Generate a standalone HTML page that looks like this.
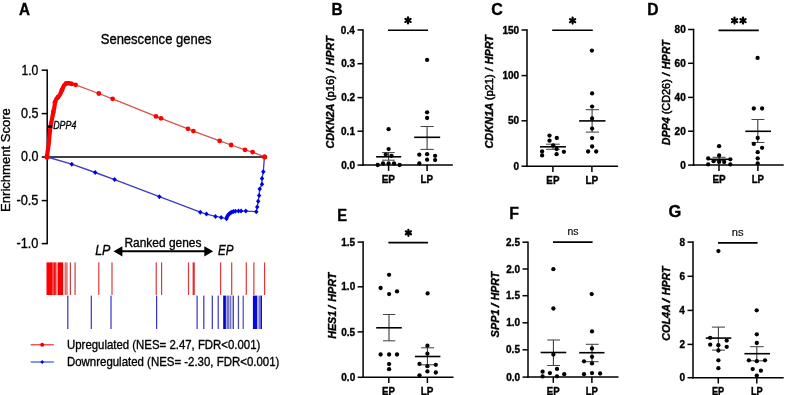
<!DOCTYPE html>
<html><head><meta charset="utf-8"><title>Figure</title>
<style>
html,body{margin:0;padding:0;background:#fff;}
body{width:787px;height:395px;overflow:hidden;}
svg{display:block;font-family:"Liberation Sans", sans-serif;filter:blur(0.35px);}
text{stroke:#000;stroke-width:0.35px;}
</style></head>
<body>
<svg width="787" height="395" viewBox="0 0 787 395">
<rect width="787" height="395" fill="#fff"/>
<text x="18.92" y="14.50" font-size="16" font-weight="bold" textLength="10.99" lengthAdjust="spacingAndGlyphs" >A</text>
<text x="100.71" y="44.00" font-size="14.6" textLength="110.76" lengthAdjust="spacingAndGlyphs" >Senescence genes</text>
<line x1="47.20" y1="69.45" x2="47.20" y2="244.35" stroke="#000" stroke-width="1.5" stroke-linecap="butt"/>
<line x1="41.70" y1="70.20" x2="47.20" y2="70.20" stroke="#000" stroke-width="1.5" stroke-linecap="butt"/>
<text x="21.39" y="74.60" font-size="14.2" textLength="16.94" lengthAdjust="spacingAndGlyphs" >1.0</text>
<line x1="41.70" y1="113.60" x2="47.20" y2="113.60" stroke="#000" stroke-width="1.5" stroke-linecap="butt"/>
<text x="21.00" y="118.00" font-size="14.2" textLength="17.40" lengthAdjust="spacingAndGlyphs" >0.5</text>
<line x1="41.70" y1="157.00" x2="47.20" y2="157.00" stroke="#000" stroke-width="1.5" stroke-linecap="butt"/>
<text x="21.00" y="161.40" font-size="14.2" textLength="17.34" lengthAdjust="spacingAndGlyphs" >0.0</text>
<line x1="41.70" y1="200.60" x2="47.20" y2="200.60" stroke="#000" stroke-width="1.5" stroke-linecap="butt"/>
<text x="16.42" y="205.00" font-size="14.2" textLength="22.03" lengthAdjust="spacingAndGlyphs" >-0.5</text>
<line x1="41.70" y1="243.60" x2="47.20" y2="243.60" stroke="#000" stroke-width="1.5" stroke-linecap="butt"/>
<text x="16.43" y="248.00" font-size="14.2" textLength="21.96" lengthAdjust="spacingAndGlyphs" >-1.0</text>
<text transform="translate(10.30 211.94) rotate(-90)" x="0" y="0" font-size="13" textLength="103.81" lengthAdjust="spacingAndGlyphs" >Enrichment Score</text>
<line x1="47.20" y1="157.00" x2="264.80" y2="157.00" stroke="#000" stroke-width="1.6" stroke-linecap="butt"/>
<polyline points="71.6,83.9 75.6,84.8 98.8,93.5 112.6,98.8 156.0,116.4 161.0,118.3 188.0,128.8 193.4,131.1 219.7,140.9 231.1,145.0 245.0,149.8 252.6,152.1 264.6,156.9" fill="none" stroke="#d85050" stroke-width="1.3"/>
<polyline points="47.0,156.0 47.6,151.8 48.6,145 49.5,135.4 50.6,125.8 52.0,119 53.3,112 54.4,107 55.0,102.5 56.3,99.0 57.8,97.4 60.0,94.6 62.0,89.9 64.0,85.4 66.3,83.3 69,83.1 71.6,83.9" fill="none" stroke="#ff0000" stroke-width="4.2" stroke-linejoin="round" stroke-linecap="round"/>
<circle cx="53.3" cy="112" r="2.4" fill="#ff0000"/>
<circle cx="55.0" cy="102.5" r="2.4" fill="#ff0000"/>
<circle cx="57.8" cy="97.4" r="2.4" fill="#ff0000"/>
<circle cx="62.0" cy="89.9" r="2.4" fill="#ff0000"/>
<circle cx="66.3" cy="83.3" r="2.4" fill="#ff0000"/>
<circle cx="71.6" cy="83.9" r="2.4" fill="#ff0000"/>
<circle cx="75.6" cy="84.8" r="2.4" fill="#ff0000"/>
<circle cx="98.8" cy="93.5" r="2.4" fill="#ff0000"/>
<circle cx="112.6" cy="98.8" r="2.4" fill="#ff0000"/>
<circle cx="156.0" cy="116.4" r="2.4" fill="#ff0000"/>
<circle cx="161.0" cy="118.3" r="2.4" fill="#ff0000"/>
<circle cx="188.0" cy="128.8" r="2.4" fill="#ff0000"/>
<circle cx="193.4" cy="131.1" r="2.4" fill="#ff0000"/>
<circle cx="219.7" cy="140.9" r="2.4" fill="#ff0000"/>
<circle cx="231.1" cy="145.0" r="2.4" fill="#ff0000"/>
<circle cx="245.0" cy="149.8" r="2.4" fill="#ff0000"/>
<circle cx="252.6" cy="152.1" r="2.4" fill="#ff0000"/>
<circle cx="264.6" cy="156.9" r="2.4" fill="#ff0000"/>
<line x1="47.90" y1="126.60" x2="52.40" y2="126.60" stroke="#000" stroke-width="2.4" stroke-linecap="butt"/>
<text x="53.23" y="128.80" font-size="10.8" font-style="italic" textLength="23.10" lengthAdjust="spacingAndGlyphs" >DPP4</text>
<polyline points="47.2,157.0 71.8,164.2 95.2,172.5 114.6,179.6 159.4,196.7 200.3,212.2 206.5,214.1 215.5,216.4 221.2,217.4 226.5,218.7 227.8,215.5 229.7,213.6 232.0,212.0 235.4,211.3 238.5,211.1 241.1,211.1 245.8,211.1 256.3,211.7 257.2,207.0 258.2,201.2 259.1,195.5 259.7,188.9 262.0,184.2 262.0,178.5 263.3,171.8 264.4,157.2" fill="none" stroke="#3c3cc8" stroke-width="1.35" stroke-linejoin="round"/>
<path d="M71.8,161.7L74.05,164.2L71.8,166.7L69.55,164.2Z" fill="#0000e6"/>
<path d="M95.2,170.0L97.45,172.5L95.2,175.0L92.95,172.5Z" fill="#0000e6"/>
<path d="M114.6,177.1L116.85,179.6L114.6,182.1L112.35,179.6Z" fill="#0000e6"/>
<path d="M159.4,194.2L161.65,196.7L159.4,199.2L157.15,196.7Z" fill="#0000e6"/>
<path d="M200.3,209.7L202.55,212.2L200.3,214.7L198.05,212.2Z" fill="#0000e6"/>
<path d="M206.5,211.6L208.75,214.1L206.5,216.6L204.25,214.1Z" fill="#0000e6"/>
<path d="M215.5,213.9L217.75,216.4L215.5,218.9L213.25,216.4Z" fill="#0000e6"/>
<path d="M221.2,214.9L223.45,217.4L221.2,219.9L218.95,217.4Z" fill="#0000e6"/>
<path d="M226.5,216.2L228.75,218.7L226.5,221.2L224.25,218.7Z" fill="#0000e6"/>
<path d="M227.8,213.0L230.05,215.5L227.8,218.0L225.55,215.5Z" fill="#0000e6"/>
<path d="M229.7,211.1L231.95,213.6L229.7,216.1L227.45,213.6Z" fill="#0000e6"/>
<path d="M232.0,209.5L234.25,212.0L232.0,214.5L229.75,212.0Z" fill="#0000e6"/>
<path d="M235.4,208.8L237.65,211.3L235.4,213.8L233.15,211.3Z" fill="#0000e6"/>
<path d="M238.5,208.6L240.75,211.1L238.5,213.6L236.25,211.1Z" fill="#0000e6"/>
<path d="M241.1,208.6L243.35,211.1L241.1,213.6L238.85,211.1Z" fill="#0000e6"/>
<path d="M245.8,208.6L248.05,211.1L245.8,213.6L243.55,211.1Z" fill="#0000e6"/>
<path d="M256.3,209.2L258.55,211.7L256.3,214.2L254.05,211.7Z" fill="#0000e6"/>
<path d="M257.2,204.5L259.45,207.0L257.2,209.5L254.95,207.0Z" fill="#0000e6"/>
<path d="M258.2,198.7L260.45,201.2L258.2,203.7L255.95,201.2Z" fill="#0000e6"/>
<path d="M259.1,193.0L261.35,195.5L259.1,198.0L256.85,195.5Z" fill="#0000e6"/>
<path d="M259.7,186.4L261.95,188.9L259.7,191.4L257.45,188.9Z" fill="#0000e6"/>
<path d="M262.0,181.7L264.25,184.2L262.0,186.7L259.75,184.2Z" fill="#0000e6"/>
<path d="M262.0,176.0L264.25,178.5L262.0,181.0L259.75,178.5Z" fill="#0000e6"/>
<path d="M263.3,169.3L265.55,171.8L263.3,174.3L261.05,171.8Z" fill="#0000e6"/>
<path d="M227.0,214.5L229.25,217.0L227.0,219.5L224.75,217.0Z" fill="#0000e6"/>
<path d="M228.6,212.0L230.85,214.5L228.6,217.0L226.35,214.5Z" fill="#0000e6"/>
<path d="M230.8,210.3L233.05,212.8L230.8,215.3L228.55,212.8Z" fill="#0000e6"/>
<path d="M233.5,209.1L235.75,211.6L233.5,214.1L231.25,211.6Z" fill="#0000e6"/>
<circle cx="264.6" cy="157.0" r="2.5" fill="#ff0000"/>
<circle cx="47.1" cy="157.0" r="2.7" fill="#ff0000"/>
<text x="95.13" y="254.90" font-size="14.4" font-style="italic" textLength="15.28" lengthAdjust="spacingAndGlyphs" >LP</text>
<text x="217.95" y="254.90" font-size="14.4" font-style="italic" textLength="15.45" lengthAdjust="spacingAndGlyphs" >EP</text>
<text x="124.45" y="247.20" font-size="12.8" textLength="76.96" lengthAdjust="spacingAndGlyphs" >Ranked genes</text>
<line x1="121.00" y1="251.30" x2="205.00" y2="251.30" stroke="#000" stroke-width="1.9" stroke-linecap="butt"/>
<path d="M113.5,251.3 L122.4,246.2 L122.4,256.4 Z" fill="#000"/>
<path d="M213.2,251.3 L204.3,246.2 L204.3,256.4 Z" fill="#000"/>
<rect x="46.5" y="262.4" width="6.20" height="32.6" fill="#ff0000"/>
<rect x="52.7" y="262.4" width="1.10" height="32.6" fill="#f03030"/>
<rect x="53.8" y="262.4" width="2.10" height="32.6" fill="#e01818"/>
<rect x="55.9" y="262.4" width="2.10" height="32.6" fill="#ff8888"/>
<rect x="58.0" y="262.4" width="5.20" height="32.6" fill="#f50000"/>
<rect x="64.7" y="262.4" width="1.00" height="32.6" fill="#c03838"/>
<rect x="65.7" y="262.4" width="2.10" height="32.6" fill="#f08080"/>
<rect x="69.8" y="262.4" width="1.20" height="32.6" fill="#c04040"/>
<rect x="74.4" y="262.4" width="1.40" height="32.6" fill="#d85858"/>
<rect x="98.2" y="262.4" width="1.20" height="32.6" fill="#e03a3a"/>
<rect x="111.4" y="262.4" width="1.20" height="32.6" fill="#e03a3a"/>
<rect x="155.6" y="262.4" width="1.20" height="32.6" fill="#e03a3a"/>
<rect x="161.0" y="262.4" width="1.20" height="32.6" fill="#e03a3a"/>
<rect x="187.9" y="262.4" width="1.20" height="32.6" fill="#e03a3a"/>
<rect x="220.0" y="262.4" width="1.20" height="32.6" fill="#e03a3a"/>
<rect x="231.1" y="262.4" width="1.20" height="32.6" fill="#e03a3a"/>
<rect x="245.70000000000002" y="262.4" width="1.20" height="32.6" fill="#e03a3a"/>
<rect x="253.3" y="262.4" width="1.20" height="32.6" fill="#e03a3a"/>
<rect x="264.0" y="262.4" width="1.20" height="32.6" fill="#e03a3a"/>
<rect x="192.6" y="262.4" width="2.20" height="32.6" fill="#e03030"/>
<rect x="67.2" y="295.6" width="1.20" height="33.4" fill="#3434cc"/>
<rect x="90.7" y="295.6" width="1.20" height="33.4" fill="#3434cc"/>
<rect x="110.4" y="295.6" width="1.20" height="33.4" fill="#3434cc"/>
<rect x="156.0" y="295.6" width="1.20" height="33.4" fill="#3434cc"/>
<rect x="196.5" y="295.6" width="1.20" height="33.4" fill="#3434cc"/>
<rect x="203.20000000000002" y="295.6" width="1.20" height="33.4" fill="#3434cc"/>
<rect x="211.70000000000002" y="295.6" width="1.20" height="33.4" fill="#3434cc"/>
<rect x="217.6" y="295.6" width="1.20" height="33.4" fill="#3434cc"/>
<rect x="223.2" y="295.6" width="2.70" height="33.4" fill="#0000d0"/>
<rect x="225.9" y="295.6" width="0.90" height="33.4" fill="#a8a8e4"/>
<rect x="226.8" y="295.6" width="2.50" height="33.4" fill="#7878b8"/>
<rect x="229.3" y="295.6" width="0.60" height="33.4" fill="#b0b0e0"/>
<rect x="229.9" y="295.6" width="1.10" height="33.4" fill="#7070d0"/>
<rect x="231.0" y="295.6" width="1.70" height="33.4" fill="#c8c8f0"/>
<rect x="232.7" y="295.6" width="1.30" height="33.4" fill="#4848a8"/>
<rect x="237.8" y="295.6" width="1.30" height="33.4" fill="#505098"/>
<rect x="242.6" y="295.6" width="1.20" height="33.4" fill="#4848c8"/>
<rect x="252.9" y="295.6" width="4.20" height="33.4" fill="#0808e0"/>
<rect x="257.1" y="295.6" width="1.90" height="33.4" fill="#b0b0f0"/>
<rect x="259.0" y="295.6" width="1.50" height="33.4" fill="#7070e0"/>
<rect x="260.5" y="295.6" width="1.50" height="33.4" fill="#1010d0"/>
<line x1="30.70" y1="344.80" x2="53.80" y2="344.80" stroke="#e83030" stroke-width="1.2" stroke-linecap="butt"/>
<circle cx="42.2" cy="344.8" r="2.0" fill="#ee0000"/>
<line x1="30.70" y1="362.00" x2="53.80" y2="362.00" stroke="#3050e0" stroke-width="1.2" stroke-linecap="butt"/>
<path d="M42.2,359.9L44.1,362L42.2,364.1L40.3,362Z" fill="#0000e0"/>
<text x="67.04" y="348.90" font-size="12.6" textLength="193.29" lengthAdjust="spacingAndGlyphs" >Upregulated (NES= 2.47, FDR&lt;0.001)</text>
<text x="66.98" y="365.70" font-size="12.6" textLength="212.36" lengthAdjust="spacingAndGlyphs" >Downregulated (NES= -2.30, FDR&lt;0.001)</text>
<text x="331.40" y="14.50" font-size="16" font-weight="bold" textLength="11.16" lengthAdjust="spacingAndGlyphs" >B</text>
<line x1="363.00" y1="29.15" x2="363.00" y2="165.85" stroke="#000" stroke-width="1.5" stroke-linecap="butt"/>
<line x1="357.50" y1="165.10" x2="363.00" y2="165.10" stroke="#000" stroke-width="1.5" stroke-linecap="butt"/>
<text x="341.20" y="168.70" font-size="10" font-weight="bold" textLength="13.90" lengthAdjust="spacingAndGlyphs" >0.0</text>
<line x1="357.50" y1="131.20" x2="363.00" y2="131.20" stroke="#000" stroke-width="1.5" stroke-linecap="butt"/>
<text x="341.05" y="134.80" font-size="10" font-weight="bold" textLength="13.90" lengthAdjust="spacingAndGlyphs" >0.1</text>
<line x1="357.50" y1="97.60" x2="363.00" y2="97.60" stroke="#000" stroke-width="1.5" stroke-linecap="butt"/>
<text x="341.20" y="101.20" font-size="10" font-weight="bold" textLength="13.90" lengthAdjust="spacingAndGlyphs" >0.2</text>
<line x1="357.50" y1="63.70" x2="363.00" y2="63.70" stroke="#000" stroke-width="1.5" stroke-linecap="butt"/>
<text x="341.15" y="67.30" font-size="10" font-weight="bold" textLength="13.90" lengthAdjust="spacingAndGlyphs" >0.3</text>
<line x1="357.50" y1="29.90" x2="363.00" y2="29.90" stroke="#000" stroke-width="1.5" stroke-linecap="butt"/>
<text x="340.85" y="33.50" font-size="10" font-weight="bold" textLength="13.90" lengthAdjust="spacingAndGlyphs" >0.4</text>
<line x1="362.25" y1="165.10" x2="452.80" y2="165.10" stroke="#000" stroke-width="1.5" stroke-linecap="butt"/>
<line x1="388.60" y1="165.10" x2="388.60" y2="170.90" stroke="#000" stroke-width="1.5" stroke-linecap="butt"/>
<text x="381.65" y="182.50" font-size="10.2" font-weight="bold" textLength="13.29" lengthAdjust="spacingAndGlyphs" >EP</text>
<line x1="427.10" y1="165.10" x2="427.10" y2="170.90" stroke="#000" stroke-width="1.5" stroke-linecap="butt"/>
<text x="420.46" y="182.50" font-size="10.2" font-weight="bold" textLength="12.56" lengthAdjust="spacingAndGlyphs" >LP</text>
<line x1="388.00" y1="30.30" x2="428.00" y2="30.30" stroke="#000" stroke-width="1.6" stroke-linecap="butt"/>
<line x1="408.00" y1="17.40" x2="408.00" y2="23.40" stroke="#000" stroke-width="2.2" stroke-linecap="round"/>
<line x1="405.40" y1="18.90" x2="410.60" y2="21.90" stroke="#000" stroke-width="2.2" stroke-linecap="round"/>
<line x1="410.60" y1="18.90" x2="405.40" y2="21.90" stroke="#000" stroke-width="2.2" stroke-linecap="round"/>
<text transform="translate(334.20 148.54) rotate(-90)" x="0" y="0" font-size="10.4" font-weight="bold" font-style="italic" textLength="44.92" lengthAdjust="spacingAndGlyphs" >CDKN2A</text>
<text transform="translate(334.20 101.07) rotate(-90)" x="0" y="0" font-size="10.2" textLength="25.88" lengthAdjust="spacingAndGlyphs" style="stroke-width:0.5px">(p16)</text>
<text transform="translate(334.20 72.29) rotate(-90)" x="0" y="0" font-size="10.4" font-weight="bold" font-style="italic" textLength="3.26" lengthAdjust="spacingAndGlyphs" >/</text>
<text transform="translate(334.20 65.56) rotate(-90)" x="0" y="0" font-size="10.4" font-weight="bold" font-style="italic" textLength="29.49" lengthAdjust="spacingAndGlyphs" >HPRT</text>
<line x1="388.60" y1="152.60" x2="388.60" y2="160.20" stroke="#333" stroke-width="1.05" stroke-linecap="butt"/>
<line x1="382.10" y1="152.60" x2="394.70" y2="152.60" stroke="#444" stroke-width="1.05" stroke-linecap="butt"/>
<line x1="382.10" y1="160.20" x2="394.70" y2="160.20" stroke="#444" stroke-width="1.05" stroke-linecap="butt"/>
<line x1="376.10" y1="156.80" x2="401.20" y2="156.80" stroke="#000" stroke-width="1.6" stroke-linecap="butt"/>
<circle cx="388.6" cy="129.2" r="2.15" fill="#000"/>
<circle cx="388.6" cy="149.1" r="2.15" fill="#000"/>
<circle cx="385.8" cy="154.6" r="2.15" fill="#000"/>
<circle cx="391.5" cy="155.8" r="2.15" fill="#000"/>
<circle cx="383.0" cy="163.5" r="2.15" fill="#000"/>
<circle cx="388.6" cy="163.5" r="2.15" fill="#000"/>
<circle cx="394.0" cy="163.5" r="2.15" fill="#000"/>
<circle cx="377.7" cy="165.0" r="2.15" fill="#000"/>
<circle cx="399.6" cy="165.0" r="2.15" fill="#000"/>
<line x1="427.10" y1="126.50" x2="427.10" y2="149.40" stroke="#333" stroke-width="1.05" stroke-linecap="butt"/>
<line x1="420.50" y1="126.50" x2="433.70" y2="126.50" stroke="#444" stroke-width="1.05" stroke-linecap="butt"/>
<line x1="420.50" y1="149.40" x2="433.70" y2="149.40" stroke="#444" stroke-width="1.05" stroke-linecap="butt"/>
<line x1="414.20" y1="137.30" x2="440.20" y2="137.30" stroke="#000" stroke-width="1.6" stroke-linecap="butt"/>
<circle cx="427.1" cy="59.9" r="2.15" fill="#000"/>
<circle cx="427.1" cy="112.3" r="2.15" fill="#000"/>
<circle cx="427.1" cy="118.0" r="2.15" fill="#000"/>
<circle cx="419.3" cy="154.7" r="2.15" fill="#000"/>
<circle cx="427.1" cy="154.2" r="2.15" fill="#000"/>
<circle cx="435.1" cy="155.8" r="2.15" fill="#000"/>
<circle cx="427.1" cy="159.7" r="2.15" fill="#000"/>
<circle cx="435.1" cy="160.1" r="2.15" fill="#000"/>
<circle cx="419.3" cy="163.5" r="2.15" fill="#000"/>
<text x="491.36" y="14.50" font-size="16" font-weight="bold" textLength="11.58" lengthAdjust="spacingAndGlyphs" >C</text>
<line x1="527.00" y1="29.25" x2="527.00" y2="166.95" stroke="#000" stroke-width="1.5" stroke-linecap="butt"/>
<line x1="521.50" y1="166.20" x2="527.00" y2="166.20" stroke="#000" stroke-width="1.5" stroke-linecap="butt"/>
<text x="513.55" y="169.80" font-size="10" font-weight="bold" textLength="5.56" lengthAdjust="spacingAndGlyphs" >0</text>
<line x1="521.50" y1="120.80" x2="527.00" y2="120.80" stroke="#000" stroke-width="1.5" stroke-linecap="butt"/>
<text x="508.00" y="124.40" font-size="10" font-weight="bold" textLength="11.12" lengthAdjust="spacingAndGlyphs" >50</text>
<line x1="521.50" y1="75.60" x2="527.00" y2="75.60" stroke="#000" stroke-width="1.5" stroke-linecap="butt"/>
<text x="502.45" y="79.20" font-size="10" font-weight="bold" textLength="16.69" lengthAdjust="spacingAndGlyphs" >100</text>
<line x1="521.50" y1="30.00" x2="527.00" y2="30.00" stroke="#000" stroke-width="1.5" stroke-linecap="butt"/>
<text x="502.45" y="33.60" font-size="10" font-weight="bold" textLength="16.69" lengthAdjust="spacingAndGlyphs" >150</text>
<line x1="526.25" y1="166.20" x2="618.10" y2="166.20" stroke="#000" stroke-width="1.5" stroke-linecap="butt"/>
<line x1="552.90" y1="166.20" x2="552.90" y2="172.00" stroke="#000" stroke-width="1.5" stroke-linecap="butt"/>
<text x="546.36" y="183.80" font-size="10.2" font-weight="bold" textLength="13.07" lengthAdjust="spacingAndGlyphs" >EP</text>
<line x1="591.90" y1="166.20" x2="591.90" y2="172.00" stroke="#000" stroke-width="1.5" stroke-linecap="butt"/>
<text x="585.44" y="183.80" font-size="10.2" font-weight="bold" textLength="12.89" lengthAdjust="spacingAndGlyphs" >LP</text>
<line x1="552.20" y1="30.20" x2="592.80" y2="30.20" stroke="#000" stroke-width="1.6" stroke-linecap="butt"/>
<line x1="572.60" y1="17.60" x2="572.60" y2="23.60" stroke="#000" stroke-width="2.2" stroke-linecap="round"/>
<line x1="570.00" y1="19.10" x2="575.20" y2="22.10" stroke="#000" stroke-width="2.2" stroke-linecap="round"/>
<line x1="575.20" y1="19.10" x2="570.00" y2="22.10" stroke="#000" stroke-width="2.2" stroke-linecap="round"/>
<text transform="translate(493.40 148.55) rotate(-90)" x="0" y="0" font-size="10.4" font-weight="bold" font-style="italic" textLength="45.74" lengthAdjust="spacingAndGlyphs" >CDKN1A</text>
<text transform="translate(493.40 100.27) rotate(-90)" x="0" y="0" font-size="10.2" textLength="25.88" lengthAdjust="spacingAndGlyphs" style="stroke-width:0.5px">(p21)</text>
<text transform="translate(493.40 71.04) rotate(-90)" x="0" y="0" font-size="10.4" font-weight="bold" font-style="italic" textLength="2.85" lengthAdjust="spacingAndGlyphs" >/</text>
<text transform="translate(493.40 64.26) rotate(-90)" x="0" y="0" font-size="10.4" font-weight="bold" font-style="italic" textLength="29.20" lengthAdjust="spacingAndGlyphs" >HPRT</text>
<line x1="553.00" y1="144.20" x2="553.00" y2="149.30" stroke="#333" stroke-width="1.05" stroke-linecap="butt"/>
<line x1="546.10" y1="144.20" x2="559.80" y2="144.20" stroke="#444" stroke-width="1.05" stroke-linecap="butt"/>
<line x1="546.10" y1="149.30" x2="559.80" y2="149.30" stroke="#444" stroke-width="1.05" stroke-linecap="butt"/>
<line x1="540.00" y1="146.80" x2="565.90" y2="146.80" stroke="#000" stroke-width="1.6" stroke-linecap="butt"/>
<circle cx="549.5" cy="135.6" r="2.15" fill="#000"/>
<circle cx="556.8" cy="138.0" r="2.15" fill="#000"/>
<circle cx="549.5" cy="140.7" r="2.15" fill="#000"/>
<circle cx="553.2" cy="145.3" r="2.15" fill="#000"/>
<circle cx="556.6" cy="149.0" r="2.15" fill="#000"/>
<circle cx="542.1" cy="151.5" r="2.15" fill="#000"/>
<circle cx="563.9" cy="151.8" r="2.15" fill="#000"/>
<circle cx="542.1" cy="155.4" r="2.15" fill="#000"/>
<circle cx="556.6" cy="154.2" r="2.15" fill="#000"/>
<line x1="592.10" y1="109.70" x2="592.10" y2="132.10" stroke="#333" stroke-width="1.05" stroke-linecap="butt"/>
<line x1="585.80" y1="109.70" x2="599.00" y2="109.70" stroke="#444" stroke-width="1.05" stroke-linecap="butt"/>
<line x1="585.80" y1="132.10" x2="599.00" y2="132.10" stroke="#444" stroke-width="1.05" stroke-linecap="butt"/>
<line x1="579.10" y1="120.90" x2="605.50" y2="120.90" stroke="#000" stroke-width="1.6" stroke-linecap="butt"/>
<circle cx="591.9" cy="50.6" r="2.15" fill="#000"/>
<circle cx="592.1" cy="93.4" r="2.15" fill="#000"/>
<circle cx="592.1" cy="106.6" r="2.15" fill="#000"/>
<circle cx="592.1" cy="118.5" r="2.15" fill="#000"/>
<circle cx="592.1" cy="128.6" r="2.15" fill="#000"/>
<circle cx="592.1" cy="138.1" r="2.15" fill="#000"/>
<circle cx="592.1" cy="146.5" r="2.15" fill="#000"/>
<circle cx="588.1" cy="151.5" r="2.15" fill="#000"/>
<circle cx="596.2" cy="151.5" r="2.15" fill="#000"/>
<text x="647.29" y="14.50" font-size="16" font-weight="bold" textLength="11.27" lengthAdjust="spacingAndGlyphs" >D</text>
<line x1="693.60" y1="28.75" x2="693.60" y2="165.85" stroke="#000" stroke-width="1.5" stroke-linecap="butt"/>
<line x1="688.10" y1="165.10" x2="693.60" y2="165.10" stroke="#000" stroke-width="1.5" stroke-linecap="butt"/>
<text x="680.15" y="168.70" font-size="10" font-weight="bold" textLength="5.56" lengthAdjust="spacingAndGlyphs" >0</text>
<line x1="688.10" y1="131.20" x2="693.60" y2="131.20" stroke="#000" stroke-width="1.5" stroke-linecap="butt"/>
<text x="674.60" y="134.80" font-size="10" font-weight="bold" textLength="11.12" lengthAdjust="spacingAndGlyphs" >20</text>
<line x1="688.10" y1="97.40" x2="693.60" y2="97.40" stroke="#000" stroke-width="1.5" stroke-linecap="butt"/>
<text x="674.60" y="101.00" font-size="10" font-weight="bold" textLength="11.12" lengthAdjust="spacingAndGlyphs" >40</text>
<line x1="688.10" y1="63.30" x2="693.60" y2="63.30" stroke="#000" stroke-width="1.5" stroke-linecap="butt"/>
<text x="674.60" y="66.90" font-size="10" font-weight="bold" textLength="11.12" lengthAdjust="spacingAndGlyphs" >60</text>
<line x1="688.10" y1="29.50" x2="693.60" y2="29.50" stroke="#000" stroke-width="1.5" stroke-linecap="butt"/>
<text x="674.60" y="33.10" font-size="10" font-weight="bold" textLength="11.12" lengthAdjust="spacingAndGlyphs" >80</text>
<line x1="692.85" y1="165.10" x2="783.70" y2="165.10" stroke="#000" stroke-width="1.5" stroke-linecap="butt"/>
<line x1="719.00" y1="165.10" x2="719.00" y2="170.90" stroke="#000" stroke-width="1.5" stroke-linecap="butt"/>
<text x="712.46" y="182.80" font-size="10.2" font-weight="bold" textLength="13.18" lengthAdjust="spacingAndGlyphs" >EP</text>
<line x1="757.90" y1="165.10" x2="757.90" y2="170.90" stroke="#000" stroke-width="1.5" stroke-linecap="butt"/>
<text x="751.68" y="182.80" font-size="10.2" font-weight="bold" textLength="12.24" lengthAdjust="spacingAndGlyphs" >LP</text>
<line x1="718.50" y1="30.40" x2="758.80" y2="30.40" stroke="#000" stroke-width="1.6" stroke-linecap="butt"/>
<line x1="734.50" y1="17.60" x2="734.50" y2="23.60" stroke="#000" stroke-width="2.2" stroke-linecap="round"/>
<line x1="731.90" y1="19.10" x2="737.10" y2="22.10" stroke="#000" stroke-width="2.2" stroke-linecap="round"/>
<line x1="737.10" y1="19.10" x2="731.90" y2="22.10" stroke="#000" stroke-width="2.2" stroke-linecap="round"/>
<line x1="743.00" y1="17.60" x2="743.00" y2="23.60" stroke="#000" stroke-width="2.2" stroke-linecap="round"/>
<line x1="740.40" y1="19.10" x2="745.60" y2="22.10" stroke="#000" stroke-width="2.2" stroke-linecap="round"/>
<line x1="745.60" y1="19.10" x2="740.40" y2="22.10" stroke="#000" stroke-width="2.2" stroke-linecap="round"/>
<text transform="translate(670.40 145.36) rotate(-90)" x="0" y="0" font-size="10.4" font-weight="bold" font-style="italic" textLength="28.05" lengthAdjust="spacingAndGlyphs" >DPP4</text>
<text transform="translate(670.40 114.25) rotate(-90)" x="0" y="0" font-size="10.2" textLength="35.04" lengthAdjust="spacingAndGlyphs" style="stroke-width:0.5px">(CD26)</text>
<text transform="translate(670.40 76.02) rotate(-90)" x="0" y="0" font-size="10.4" font-weight="bold" font-style="italic" textLength="3.06" lengthAdjust="spacingAndGlyphs" >/</text>
<text transform="translate(670.40 69.26) rotate(-90)" x="0" y="0" font-size="10.4" font-weight="bold" font-style="italic" textLength="29.00" lengthAdjust="spacingAndGlyphs" >HPRT</text>
<line x1="719.10" y1="157.30" x2="719.10" y2="160.60" stroke="#333" stroke-width="1.05" stroke-linecap="butt"/>
<line x1="712.50" y1="157.30" x2="725.60" y2="157.30" stroke="#444" stroke-width="1.05" stroke-linecap="butt"/>
<line x1="712.50" y1="160.60" x2="725.60" y2="160.60" stroke="#444" stroke-width="1.05" stroke-linecap="butt"/>
<line x1="707.00" y1="159.30" x2="731.40" y2="159.30" stroke="#000" stroke-width="1.6" stroke-linecap="butt"/>
<circle cx="719.1" cy="146.2" r="2.15" fill="#000"/>
<circle cx="719.1" cy="155.5" r="2.15" fill="#000"/>
<circle cx="708.2" cy="158.4" r="2.15" fill="#000"/>
<circle cx="730.3" cy="159.3" r="2.15" fill="#000"/>
<circle cx="713.6" cy="161.2" r="2.15" fill="#000"/>
<circle cx="719.1" cy="162.0" r="2.15" fill="#000"/>
<circle cx="724.2" cy="162.0" r="2.15" fill="#000"/>
<circle cx="708.2" cy="164.4" r="2.15" fill="#000"/>
<circle cx="730.3" cy="164.4" r="2.15" fill="#000"/>
<line x1="757.80" y1="119.50" x2="757.80" y2="142.50" stroke="#333" stroke-width="1.05" stroke-linecap="butt"/>
<line x1="751.50" y1="119.50" x2="764.40" y2="119.50" stroke="#444" stroke-width="1.05" stroke-linecap="butt"/>
<line x1="751.50" y1="142.50" x2="764.40" y2="142.50" stroke="#444" stroke-width="1.05" stroke-linecap="butt"/>
<line x1="745.30" y1="131.30" x2="771.00" y2="131.30" stroke="#000" stroke-width="1.6" stroke-linecap="butt"/>
<circle cx="757.6" cy="57.9" r="2.15" fill="#000"/>
<circle cx="753.8" cy="108.5" r="2.15" fill="#000"/>
<circle cx="762.1" cy="108.5" r="2.15" fill="#000"/>
<circle cx="757.7" cy="138.0" r="2.15" fill="#000"/>
<circle cx="753.8" cy="143.9" r="2.15" fill="#000"/>
<circle cx="762.1" cy="147.8" r="2.15" fill="#000"/>
<circle cx="757.7" cy="152.2" r="2.15" fill="#000"/>
<circle cx="757.7" cy="158.4" r="2.15" fill="#000"/>
<circle cx="757.7" cy="163.4" r="2.15" fill="#000"/>
<text x="337.35" y="221.10" font-size="16" font-weight="bold" textLength="9.80" lengthAdjust="spacingAndGlyphs" >E</text>
<line x1="363.10" y1="241.35" x2="363.10" y2="378.05" stroke="#000" stroke-width="1.5" stroke-linecap="butt"/>
<line x1="357.60" y1="377.30" x2="363.10" y2="377.30" stroke="#000" stroke-width="1.5" stroke-linecap="butt"/>
<text x="341.30" y="380.90" font-size="10" font-weight="bold" textLength="13.90" lengthAdjust="spacingAndGlyphs" >0.0</text>
<line x1="357.60" y1="331.90" x2="363.10" y2="331.90" stroke="#000" stroke-width="1.5" stroke-linecap="butt"/>
<text x="341.15" y="335.50" font-size="10" font-weight="bold" textLength="13.90" lengthAdjust="spacingAndGlyphs" >0.5</text>
<line x1="357.60" y1="286.80" x2="363.10" y2="286.80" stroke="#000" stroke-width="1.5" stroke-linecap="butt"/>
<text x="341.30" y="290.40" font-size="10" font-weight="bold" textLength="13.90" lengthAdjust="spacingAndGlyphs" >1.0</text>
<line x1="357.60" y1="242.10" x2="363.10" y2="242.10" stroke="#000" stroke-width="1.5" stroke-linecap="butt"/>
<text x="341.15" y="245.70" font-size="10" font-weight="bold" textLength="13.90" lengthAdjust="spacingAndGlyphs" >1.5</text>
<line x1="362.35" y1="377.30" x2="453.50" y2="377.30" stroke="#000" stroke-width="1.5" stroke-linecap="butt"/>
<line x1="388.80" y1="377.30" x2="388.80" y2="383.10" stroke="#000" stroke-width="1.5" stroke-linecap="butt"/>
<text x="382.07" y="394.80" font-size="10.2" font-weight="bold" textLength="12.85" lengthAdjust="spacingAndGlyphs" >EP</text>
<line x1="427.40" y1="377.30" x2="427.40" y2="383.10" stroke="#000" stroke-width="1.5" stroke-linecap="butt"/>
<text x="420.66" y="394.80" font-size="10.2" font-weight="bold" textLength="12.67" lengthAdjust="spacingAndGlyphs" >LP</text>
<line x1="388.40" y1="242.60" x2="428.00" y2="242.60" stroke="#000" stroke-width="1.6" stroke-linecap="butt"/>
<line x1="408.40" y1="229.80" x2="408.40" y2="235.80" stroke="#000" stroke-width="2.2" stroke-linecap="round"/>
<line x1="405.80" y1="231.30" x2="411.00" y2="234.30" stroke="#000" stroke-width="2.2" stroke-linecap="round"/>
<line x1="411.00" y1="231.30" x2="405.80" y2="234.30" stroke="#000" stroke-width="2.2" stroke-linecap="round"/>
<text transform="translate(335.90 338.86) rotate(-90)" x="0" y="0" font-size="10.4" font-weight="bold" font-style="italic" textLength="28.02" lengthAdjust="spacingAndGlyphs" >HES1</text>
<text transform="translate(335.90 309.00) rotate(-90)" x="0" y="0" font-size="10.4" font-weight="bold" font-style="italic" textLength="3.19" lengthAdjust="spacingAndGlyphs" >/</text>
<text transform="translate(335.90 301.86) rotate(-90)" x="0" y="0" font-size="10.4" font-weight="bold" font-style="italic" textLength="29.20" lengthAdjust="spacingAndGlyphs" >HPRT</text>
<line x1="389.00" y1="314.50" x2="389.00" y2="340.80" stroke="#333" stroke-width="1.05" stroke-linecap="butt"/>
<line x1="383.00" y1="314.50" x2="395.30" y2="314.50" stroke="#444" stroke-width="1.05" stroke-linecap="butt"/>
<line x1="383.00" y1="340.80" x2="395.30" y2="340.80" stroke="#444" stroke-width="1.05" stroke-linecap="butt"/>
<line x1="376.20" y1="327.80" x2="401.80" y2="327.80" stroke="#000" stroke-width="1.6" stroke-linecap="butt"/>
<circle cx="389.1" cy="274.8" r="2.15" fill="#000"/>
<circle cx="380.6" cy="288.0" r="2.15" fill="#000"/>
<circle cx="389.1" cy="294.1" r="2.15" fill="#000"/>
<circle cx="397.0" cy="291.4" r="2.15" fill="#000"/>
<circle cx="380.6" cy="354.5" r="2.15" fill="#000"/>
<circle cx="389.1" cy="354.5" r="2.15" fill="#000"/>
<circle cx="397.0" cy="354.5" r="2.15" fill="#000"/>
<circle cx="389.1" cy="364.1" r="2.15" fill="#000"/>
<circle cx="389.1" cy="369.2" r="2.15" fill="#000"/>
<line x1="427.40" y1="347.80" x2="427.40" y2="364.80" stroke="#333" stroke-width="1.05" stroke-linecap="butt"/>
<line x1="421.10" y1="347.80" x2="434.00" y2="347.80" stroke="#444" stroke-width="1.05" stroke-linecap="butt"/>
<line x1="421.10" y1="364.80" x2="434.00" y2="364.80" stroke="#444" stroke-width="1.05" stroke-linecap="butt"/>
<line x1="414.90" y1="356.50" x2="440.40" y2="356.50" stroke="#000" stroke-width="1.6" stroke-linecap="butt"/>
<circle cx="427.6" cy="293.4" r="2.15" fill="#000"/>
<circle cx="427.4" cy="345.7" r="2.15" fill="#000"/>
<circle cx="427.4" cy="353.7" r="2.15" fill="#000"/>
<circle cx="419.5" cy="363.9" r="2.15" fill="#000"/>
<circle cx="427.4" cy="366.2" r="2.15" fill="#000"/>
<circle cx="435.8" cy="364.8" r="2.15" fill="#000"/>
<circle cx="427.4" cy="371.4" r="2.15" fill="#000"/>
<circle cx="435.8" cy="372.5" r="2.15" fill="#000"/>
<circle cx="419.5" cy="375.3" r="2.15" fill="#000"/>
<text x="509.37" y="218.50" font-size="16" font-weight="bold" textLength="9.70" lengthAdjust="spacingAndGlyphs" >F</text>
<line x1="528.00" y1="241.45" x2="528.00" y2="377.85" stroke="#000" stroke-width="1.5" stroke-linecap="butt"/>
<line x1="522.50" y1="377.10" x2="528.00" y2="377.10" stroke="#000" stroke-width="1.5" stroke-linecap="butt"/>
<text x="506.20" y="380.70" font-size="10" font-weight="bold" textLength="13.90" lengthAdjust="spacingAndGlyphs" >0.0</text>
<line x1="522.50" y1="349.80" x2="528.00" y2="349.80" stroke="#000" stroke-width="1.5" stroke-linecap="butt"/>
<text x="506.05" y="353.40" font-size="10" font-weight="bold" textLength="13.90" lengthAdjust="spacingAndGlyphs" >0.5</text>
<line x1="522.50" y1="322.80" x2="528.00" y2="322.80" stroke="#000" stroke-width="1.5" stroke-linecap="butt"/>
<text x="506.20" y="326.40" font-size="10" font-weight="bold" textLength="13.90" lengthAdjust="spacingAndGlyphs" >1.0</text>
<line x1="522.50" y1="295.70" x2="528.00" y2="295.70" stroke="#000" stroke-width="1.5" stroke-linecap="butt"/>
<text x="506.05" y="299.30" font-size="10" font-weight="bold" textLength="13.90" lengthAdjust="spacingAndGlyphs" >1.5</text>
<line x1="522.50" y1="269.00" x2="528.00" y2="269.00" stroke="#000" stroke-width="1.5" stroke-linecap="butt"/>
<text x="506.20" y="272.60" font-size="10" font-weight="bold" textLength="13.90" lengthAdjust="spacingAndGlyphs" >2.0</text>
<line x1="522.50" y1="242.20" x2="528.00" y2="242.20" stroke="#000" stroke-width="1.5" stroke-linecap="butt"/>
<text x="506.05" y="245.80" font-size="10" font-weight="bold" textLength="13.90" lengthAdjust="spacingAndGlyphs" >2.5</text>
<line x1="527.25" y1="377.10" x2="618.50" y2="377.10" stroke="#000" stroke-width="1.5" stroke-linecap="butt"/>
<line x1="553.30" y1="377.10" x2="553.30" y2="382.90" stroke="#000" stroke-width="1.5" stroke-linecap="butt"/>
<text x="546.77" y="394.60" font-size="10.2" font-weight="bold" textLength="12.85" lengthAdjust="spacingAndGlyphs" >EP</text>
<line x1="591.90" y1="377.10" x2="591.90" y2="382.90" stroke="#000" stroke-width="1.5" stroke-linecap="butt"/>
<text x="585.78" y="394.60" font-size="10.2" font-weight="bold" textLength="12.24" lengthAdjust="spacingAndGlyphs" >LP</text>
<line x1="553.00" y1="242.10" x2="592.60" y2="242.10" stroke="#000" stroke-width="1.6" stroke-linecap="butt"/>
<text x="567.52" y="234.90" font-size="10.4" textLength="11.06" lengthAdjust="spacingAndGlyphs" style="stroke-width:0.15px">ns</text>
<text transform="translate(499.40 337.41) rotate(-90)" x="0" y="0" font-size="10.4" font-weight="bold" font-style="italic" textLength="27.98" lengthAdjust="spacingAndGlyphs" >SPP1</text>
<text transform="translate(499.40 307.15) rotate(-90)" x="0" y="0" font-size="10.4" font-weight="bold" font-style="italic" textLength="3.61" lengthAdjust="spacingAndGlyphs" >/</text>
<text transform="translate(499.40 300.36) rotate(-90)" x="0" y="0" font-size="10.4" font-weight="bold" font-style="italic" textLength="28.51" lengthAdjust="spacingAndGlyphs" >HPRT</text>
<line x1="553.40" y1="340.00" x2="553.40" y2="365.50" stroke="#333" stroke-width="1.05" stroke-linecap="butt"/>
<line x1="547.20" y1="340.00" x2="560.00" y2="340.00" stroke="#444" stroke-width="1.05" stroke-linecap="butt"/>
<line x1="547.20" y1="365.50" x2="560.00" y2="365.50" stroke="#444" stroke-width="1.05" stroke-linecap="butt"/>
<line x1="540.60" y1="352.50" x2="566.30" y2="352.50" stroke="#000" stroke-width="1.6" stroke-linecap="butt"/>
<circle cx="553.4" cy="269.2" r="2.15" fill="#000"/>
<circle cx="553.4" cy="308.5" r="2.15" fill="#000"/>
<circle cx="553.4" cy="354.6" r="2.15" fill="#000"/>
<circle cx="557.0" cy="368.9" r="2.15" fill="#000"/>
<circle cx="542.6" cy="371.7" r="2.15" fill="#000"/>
<circle cx="549.9" cy="373.1" r="2.15" fill="#000"/>
<circle cx="564.2" cy="374.2" r="2.15" fill="#000"/>
<circle cx="542.6" cy="376.4" r="2.15" fill="#000"/>
<circle cx="557.0" cy="376.3" r="2.15" fill="#000"/>
<line x1="592.00" y1="344.30" x2="592.00" y2="361.70" stroke="#333" stroke-width="1.05" stroke-linecap="butt"/>
<line x1="585.80" y1="344.30" x2="598.70" y2="344.30" stroke="#444" stroke-width="1.05" stroke-linecap="butt"/>
<line x1="585.80" y1="361.70" x2="598.70" y2="361.70" stroke="#444" stroke-width="1.05" stroke-linecap="butt"/>
<line x1="579.20" y1="352.70" x2="604.50" y2="352.70" stroke="#000" stroke-width="1.6" stroke-linecap="butt"/>
<circle cx="591.7" cy="294.1" r="2.15" fill="#000"/>
<circle cx="592.0" cy="331.4" r="2.15" fill="#000"/>
<circle cx="592.0" cy="348.5" r="2.15" fill="#000"/>
<circle cx="592.0" cy="356.8" r="2.15" fill="#000"/>
<circle cx="584.0" cy="361.3" r="2.15" fill="#000"/>
<circle cx="592.0" cy="363.4" r="2.15" fill="#000"/>
<circle cx="584.0" cy="374.2" r="2.15" fill="#000"/>
<circle cx="592.0" cy="373.1" r="2.15" fill="#000"/>
<circle cx="600.1" cy="373.5" r="2.15" fill="#000"/>
<text x="668.64" y="216.60" font-size="16" font-weight="bold" textLength="12.79" lengthAdjust="spacingAndGlyphs" >G</text>
<line x1="693.00" y1="241.35" x2="693.00" y2="378.45" stroke="#000" stroke-width="1.5" stroke-linecap="butt"/>
<line x1="687.50" y1="377.70" x2="693.00" y2="377.70" stroke="#000" stroke-width="1.5" stroke-linecap="butt"/>
<text x="679.55" y="381.30" font-size="10" font-weight="bold" textLength="5.56" lengthAdjust="spacingAndGlyphs" >0</text>
<line x1="687.50" y1="344.40" x2="693.00" y2="344.40" stroke="#000" stroke-width="1.5" stroke-linecap="butt"/>
<text x="679.55" y="348.00" font-size="10" font-weight="bold" textLength="5.56" lengthAdjust="spacingAndGlyphs" >2</text>
<line x1="687.50" y1="310.40" x2="693.00" y2="310.40" stroke="#000" stroke-width="1.5" stroke-linecap="butt"/>
<text x="679.20" y="314.00" font-size="10" font-weight="bold" textLength="5.56" lengthAdjust="spacingAndGlyphs" >4</text>
<line x1="687.50" y1="276.30" x2="693.00" y2="276.30" stroke="#000" stroke-width="1.5" stroke-linecap="butt"/>
<text x="679.50" y="279.90" font-size="10" font-weight="bold" textLength="5.56" lengthAdjust="spacingAndGlyphs" >6</text>
<line x1="687.50" y1="242.10" x2="693.00" y2="242.10" stroke="#000" stroke-width="1.5" stroke-linecap="butt"/>
<text x="679.45" y="245.70" font-size="10" font-weight="bold" textLength="5.56" lengthAdjust="spacingAndGlyphs" >8</text>
<line x1="692.25" y1="377.70" x2="783.70" y2="377.70" stroke="#000" stroke-width="1.5" stroke-linecap="butt"/>
<line x1="718.30" y1="377.70" x2="718.30" y2="383.50" stroke="#000" stroke-width="1.5" stroke-linecap="butt"/>
<text x="712.01" y="394.90" font-size="10.2" font-weight="bold" textLength="12.21" lengthAdjust="spacingAndGlyphs" >EP</text>
<line x1="756.80" y1="377.70" x2="756.80" y2="383.50" stroke="#000" stroke-width="1.5" stroke-linecap="butt"/>
<text x="750.90" y="394.90" font-size="10.2" font-weight="bold" textLength="11.80" lengthAdjust="spacingAndGlyphs" >LP</text>
<line x1="718.00" y1="242.90" x2="757.60" y2="242.90" stroke="#000" stroke-width="1.6" stroke-linecap="butt"/>
<text x="731.67" y="235.70" font-size="10.4" textLength="11.83" lengthAdjust="spacingAndGlyphs" style="stroke-width:0.15px">ns</text>
<text transform="translate(670.10 340.74) rotate(-90)" x="0" y="0" font-size="10.4" font-weight="bold" font-style="italic" textLength="36.64" lengthAdjust="spacingAndGlyphs" >COL4A</text>
<text transform="translate(670.10 302.55) rotate(-90)" x="0" y="0" font-size="10.4" font-weight="bold" font-style="italic" textLength="3.61" lengthAdjust="spacingAndGlyphs" >/</text>
<text transform="translate(670.10 295.36) rotate(-90)" x="0" y="0" font-size="10.4" font-weight="bold" font-style="italic" textLength="29.00" lengthAdjust="spacingAndGlyphs" >HPRT</text>
<line x1="718.40" y1="327.10" x2="718.40" y2="350.10" stroke="#333" stroke-width="1.05" stroke-linecap="butt"/>
<line x1="711.90" y1="327.10" x2="725.00" y2="327.10" stroke="#444" stroke-width="1.05" stroke-linecap="butt"/>
<line x1="711.90" y1="350.10" x2="725.00" y2="350.10" stroke="#444" stroke-width="1.05" stroke-linecap="butt"/>
<line x1="705.80" y1="338.10" x2="731.30" y2="338.10" stroke="#000" stroke-width="1.6" stroke-linecap="butt"/>
<circle cx="718.4" cy="251.1" r="2.15" fill="#000"/>
<circle cx="710.2" cy="337.8" r="2.15" fill="#000"/>
<circle cx="726.7" cy="340.6" r="2.15" fill="#000"/>
<circle cx="710.2" cy="344.7" r="2.15" fill="#000"/>
<circle cx="718.4" cy="345.2" r="2.15" fill="#000"/>
<circle cx="726.7" cy="346.8" r="2.15" fill="#000"/>
<circle cx="718.4" cy="350.5" r="2.15" fill="#000"/>
<circle cx="718.4" cy="360.3" r="2.15" fill="#000"/>
<circle cx="718.4" cy="368.2" r="2.15" fill="#000"/>
<line x1="756.80" y1="346.70" x2="756.80" y2="360.80" stroke="#333" stroke-width="1.05" stroke-linecap="butt"/>
<line x1="750.20" y1="346.70" x2="763.70" y2="346.70" stroke="#444" stroke-width="1.05" stroke-linecap="butt"/>
<line x1="750.20" y1="360.80" x2="763.70" y2="360.80" stroke="#444" stroke-width="1.05" stroke-linecap="butt"/>
<line x1="744.40" y1="353.70" x2="770.00" y2="353.70" stroke="#000" stroke-width="1.6" stroke-linecap="butt"/>
<circle cx="756.7" cy="310.3" r="2.15" fill="#000"/>
<circle cx="756.8" cy="334.3" r="2.15" fill="#000"/>
<circle cx="756.8" cy="343.0" r="2.15" fill="#000"/>
<circle cx="748.9" cy="360.3" r="2.15" fill="#000"/>
<circle cx="756.8" cy="361.2" r="2.15" fill="#000"/>
<circle cx="765.0" cy="360.3" r="2.15" fill="#000"/>
<circle cx="752.7" cy="369.1" r="2.15" fill="#000"/>
<circle cx="760.9" cy="370.7" r="2.15" fill="#000"/>
<circle cx="756.8" cy="375.6" r="2.15" fill="#000"/>
</svg>
</body></html>
